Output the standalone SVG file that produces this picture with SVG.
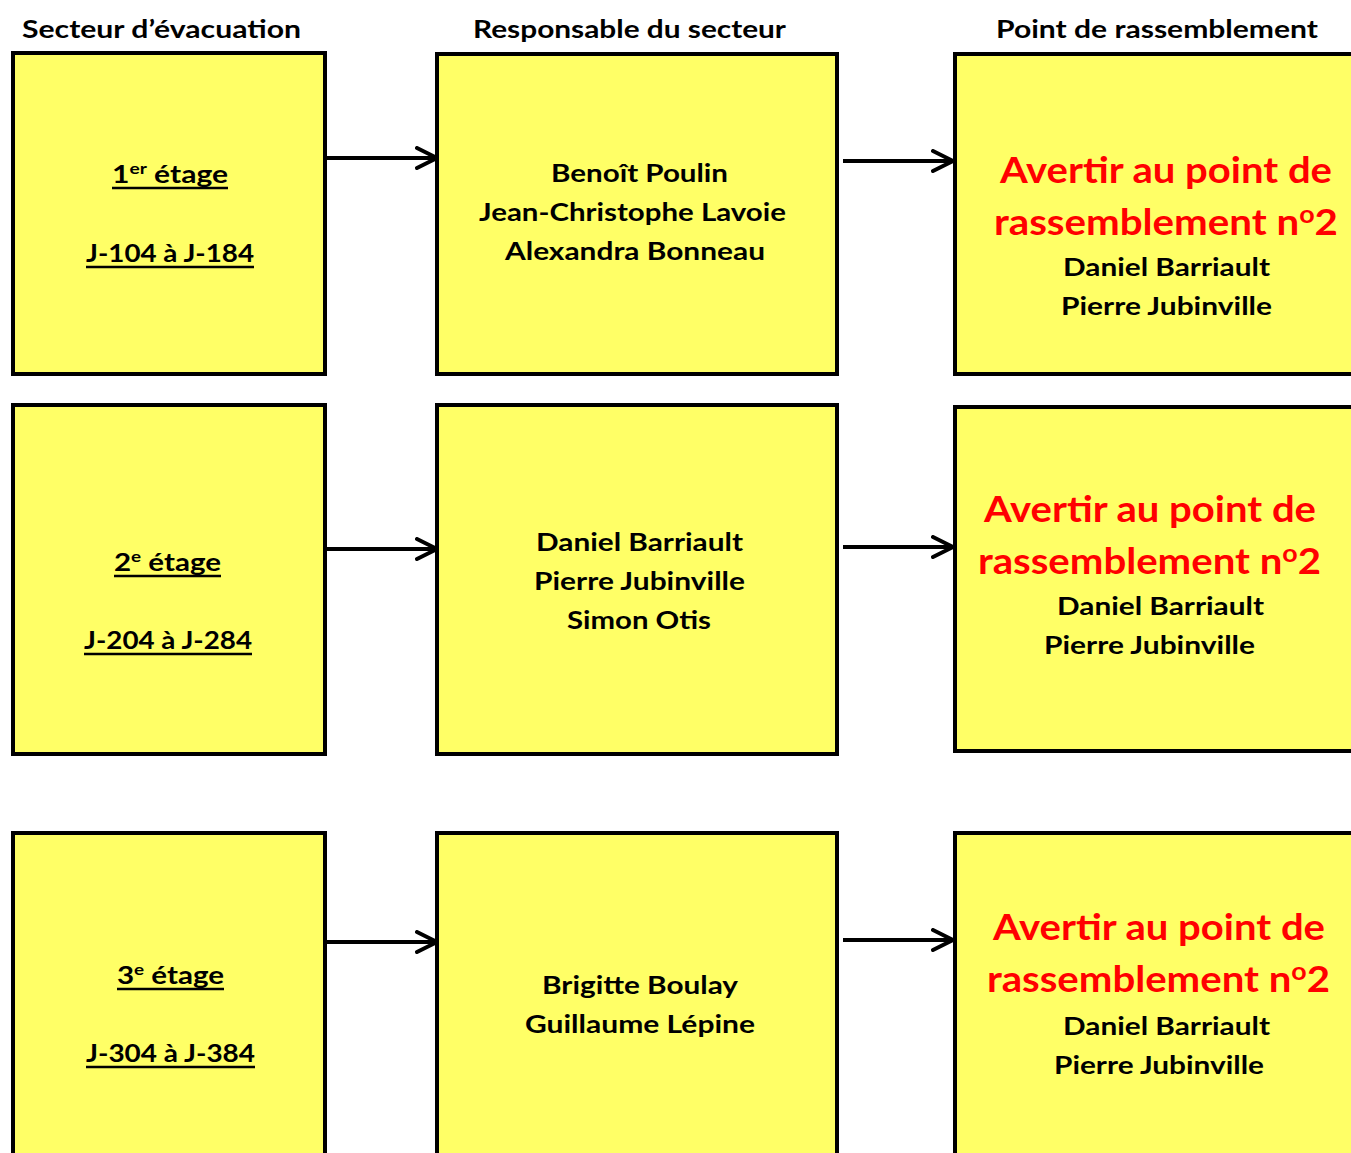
<svg xmlns="http://www.w3.org/2000/svg" width="1351" height="1153" viewBox="0 0 1351 1153">
<defs>
<style>
.box{fill:#FFFF66;stroke:#000;stroke-width:4}
.t{font-family:Lato,"Liberation Sans",sans-serif;font-weight:bold;text-anchor:middle;fill:#000}
.h{font-size:25px}
.b{font-size:25px}
.r{font-size:36px;fill:#FF0000}
.ul{stroke:#000;stroke-width:2.5}
.c{stroke:#000;stroke-width:4;fill:none}
</style>
<marker id="arr" markerUnits="userSpaceOnUse" viewBox="0 0 24 24" refX="22" refY="12" markerWidth="24" markerHeight="24" orient="auto">
<path d="M2,2 L22,12 L2,22" fill="none" stroke="#000" stroke-width="4" stroke-linecap="round" stroke-linejoin="round"/>
</marker>
</defs>
<rect width="1351" height="1153" fill="#fff"/>
<g id="headers">
<text class="t h" x="161.5" y="38" textLength="279" lengthAdjust="spacingAndGlyphs">Secteur d’évacuation</text>
<text class="t h" x="629.5" y="38" textLength="313" lengthAdjust="spacingAndGlyphs">Responsable du secteur</text>
<text class="t h" x="1157" y="38" textLength="322" lengthAdjust="spacingAndGlyphs">Point de rassemblement</text>
</g>
<g id="connectors">
<path class="c" d="M327,158 H437" marker-end="url(#arr)"/>
<path class="c" d="M843,161 H953" marker-end="url(#arr)"/>
<path class="c" d="M327,549 H437" marker-end="url(#arr)"/>
<path class="c" d="M843,547 H953" marker-end="url(#arr)"/>
<path class="c" d="M327,942 H437" marker-end="url(#arr)"/>
<path class="c" d="M843,940 H953" marker-end="url(#arr)"/>
</g>
<g id="n-etage1">
<rect class="box" x="13" y="53" width="312" height="321"/>
<text class="t b" x="170" y="183" textLength="116" lengthAdjust="spacingAndGlyphs">1<tspan font-size="16" dy="-9">er</tspan><tspan dy="9"> étage</tspan></text>
<line class="ul" x1="112" y1="188" x2="228" y2="188"/>
<text class="t b" x="170" y="262" textLength="168" lengthAdjust="spacingAndGlyphs">J-104 à J-184</text>
<line class="ul" x1="86" y1="267" x2="254" y2="267"/>
</g>
<g id="n-resp1">
<rect class="box" x="437" y="54" width="400" height="320"/>
<text class="t b" x="639.5" y="182" textLength="177" lengthAdjust="spacingAndGlyphs">Benoît Poulin</text>
<text class="t b" x="632.5" y="221" textLength="307" lengthAdjust="spacingAndGlyphs">Jean-Christophe Lavoie</text>
<text class="t b" x="635" y="260" textLength="260" lengthAdjust="spacingAndGlyphs">Alexandra Bonneau</text>
</g>
<g id="n-point1">
<rect class="box" x="955" y="54" width="400" height="320"/>
<text class="t r" x="1166" y="183" textLength="332" lengthAdjust="spacingAndGlyphs">Avertir au point de</text>
<text class="t r" x="1166" y="235" textLength="344" lengthAdjust="spacingAndGlyphs">rassemblement n<tspan font-size="24" dy="-12">o</tspan><tspan dy="12">2</tspan></text>
<text class="t b" x="1166.5" y="276" textLength="207" lengthAdjust="spacingAndGlyphs">Daniel Barriault</text>
<text class="t b" x="1166.5" y="315" textLength="211" lengthAdjust="spacingAndGlyphs">Pierre Jubinville</text>
</g>
<g id="n-etage2">
<rect class="box" x="13" y="405" width="312" height="349"/>
<text class="t b" x="167.5" y="571" textLength="107" lengthAdjust="spacingAndGlyphs">2<tspan font-size="16" dy="-9">e</tspan><tspan dy="9"> étage</tspan></text>
<line class="ul" x1="114" y1="576" x2="221" y2="576"/>
<text class="t b" x="168" y="649" textLength="168" lengthAdjust="spacingAndGlyphs">J-204 à J-284</text>
<line class="ul" x1="84" y1="654" x2="252" y2="654"/>
</g>
<g id="n-resp2">
<rect class="box" x="437" y="405" width="400" height="349"/>
<text class="t b" x="639.5" y="551" textLength="207" lengthAdjust="spacingAndGlyphs">Daniel Barriault</text>
<text class="t b" x="639.5" y="590" textLength="211" lengthAdjust="spacingAndGlyphs">Pierre Jubinville</text>
<text class="t b" x="639" y="629" textLength="144" lengthAdjust="spacingAndGlyphs">Simon Otis</text>
</g>
<g id="n-point2">
<rect class="box" x="955" y="407" width="400" height="344"/>
<text class="t r" x="1150" y="522" textLength="332" lengthAdjust="spacingAndGlyphs">Avertir au point de</text>
<text class="t r" x="1149.5" y="574" textLength="343" lengthAdjust="spacingAndGlyphs">rassemblement n<tspan font-size="24" dy="-12">o</tspan><tspan dy="12">2</tspan></text>
<text class="t b" x="1160.5" y="615" textLength="207" lengthAdjust="spacingAndGlyphs">Daniel Barriault</text>
<text class="t b" x="1149.5" y="654" textLength="211" lengthAdjust="spacingAndGlyphs">Pierre Jubinville</text>
</g>
<g id="n-etage3">
<rect class="box" x="13" y="833" width="312" height="340"/>
<text class="t b" x="170.5" y="984" textLength="107" lengthAdjust="spacingAndGlyphs">3<tspan font-size="16" dy="-9">e</tspan><tspan dy="9"> étage</tspan></text>
<line class="ul" x1="117" y1="989" x2="224" y2="989"/>
<text class="t b" x="170.5" y="1062" textLength="169" lengthAdjust="spacingAndGlyphs">J-304 à J-384</text>
<line class="ul" x1="86" y1="1067" x2="255" y2="1067"/>
</g>
<g id="n-resp3">
<rect class="box" x="437" y="833" width="400" height="340"/>
<text class="t b" x="640" y="994" textLength="196" lengthAdjust="spacingAndGlyphs">Brigitte Boulay</text>
<text class="t b" x="640" y="1033" textLength="230" lengthAdjust="spacingAndGlyphs">Guillaume Lépine</text>
</g>
<g id="n-point3">
<rect class="box" x="955" y="833" width="400" height="340"/>
<text class="t r" x="1159" y="940" textLength="332" lengthAdjust="spacingAndGlyphs">Avertir au point de</text>
<text class="t r" x="1158.5" y="992" textLength="343" lengthAdjust="spacingAndGlyphs">rassemblement n<tspan font-size="24" dy="-12">o</tspan><tspan dy="12">2</tspan></text>
<text class="t b" x="1166.5" y="1035" textLength="207" lengthAdjust="spacingAndGlyphs">Daniel Barriault</text>
<text class="t b" x="1159" y="1074" textLength="210" lengthAdjust="spacingAndGlyphs">Pierre Jubinville</text>
</g>
</svg>
